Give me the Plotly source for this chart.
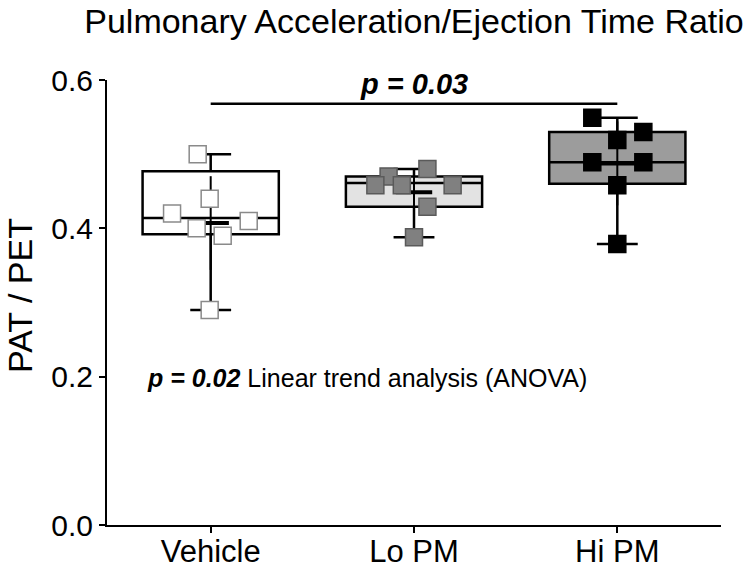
import numpy as np
import plotly.graph_objects as go

categories = ["Vehicle", "Lo PM", "Hi PM"]

vehicle_vals = [0.50, 0.44, 0.42, 0.40, 0.39, 0.41, 0.29]
lopm_vals = [0.470, 0.458, 0.458, 0.480, 0.429, 0.458, 0.388]
hipm_vals = [0.549, 0.519, 0.530, 0.489, 0.489, 0.458, 0.379]

# box statistics as drawn (q1, median, q3, lower whisker, upper whisker)
box_q1 = [0.392, 0.429, 0.460]
box_median = [0.414, 0.461, 0.489]
box_q3 = [0.477, 0.470, 0.530]
box_low = [0.290, 0.388, 0.379]
box_high = [0.500, 0.480, 0.549]

# horizontal scatter offsets of the points (layout only)
vehicle_off = [-0.064, -0.005, -0.19, -0.069, 0.059, 0.187, -0.005]
lopm_off = [-0.125, -0.19, -0.06, 0.066, 0.066, 0.19, 0.0]
hipm_off = [-0.123, 0.0, 0.128, -0.123, 0.128, 0.0, 0.0]

sig_level = 0.568
sig_text = "<b><i>p = 0.03</i></b>"
trend_text = "<b><i>p = 0.02</i></b> Linear trend analysis (ANOVA)"

FONT = "Liberation Sans, Arial, Helvetica, sans-serif"

series = [vehicle_vals, lopm_vals, hipm_vals]
offsets = [vehicle_off, lopm_off, hipm_off]
box_fill = ["#ffffff", "#e3e3e3", "#9c9c9c"]
pt_fill = ["#ffffff", "#808080", "#000000"]
pt_line = ["#8a8a8a", "#5a5a5a", "#000000"]

fig = go.Figure()

for i, cat in enumerate(categories):
    fig.add_trace(go.Box(
        x=[i], q1=[box_q1[i]], median=[box_median[i]], q3=[box_q3[i]],
        lowerfence=[box_low[i]], upperfence=[box_high[i]],
        width=0.67, whiskerwidth=0.3,
        fillcolor=box_fill[i], line=dict(color="black", width=2.5),
        boxpoints=False, showlegend=False, hoverinfo="skip",
    ))

# mean +/- SD
for i, vals in enumerate(series):
    m = float(np.mean(vals))
    sd = float(np.std(vals, ddof=1))
    fig.add_trace(go.Scatter(
        x=[i], y=[m], mode="markers",
        marker=dict(symbol="line-ew", size=26, line=dict(color="black", width=4)),
        error_y=dict(type="data", array=[sd], thickness=2, width=0, color="black"),
        showlegend=False, hoverinfo="skip",
    ))

for i, vals in enumerate(series):
    xs = [i + o for o in offsets[i]]
    fig.add_trace(go.Scatter(
        x=xs, y=vals, mode="markers",
        marker=dict(symbol="square", size=17, color=pt_fill[i],
                    line=dict(color=pt_line[i], width=1.5)),
        showlegend=False, hoverinfo="skip", cliponaxis=False,
    ))

fig.add_shape(type="line", x0=0, x1=2, y0=sig_level, y1=sig_level,
              xref="x", yref="y", line=dict(color="black", width=2.5))
fig.add_annotation(x=1, y=sig_level, xref="x", yref="y", text=sig_text,
                   showarrow=False, yanchor="bottom", yshift=2,
                   font=dict(family=FONT, size=29, color="black"))
fig.add_annotation(x=(145 - 107) / 614, y=0.198, xref="paper", yref="y",
                   text=trend_text, showarrow=False, xanchor="left",
                   yanchor="middle",
                   font=dict(family=FONT, size=25, color="black"))

fig.add_annotation(x=(20 - 107) / 614, y=(525 - 296) / 445, xref="paper",
                   yref="paper", text="PAT / PET", textangle=-90,
                   showarrow=False, xanchor="center", yanchor="middle",
                   font=dict(family=FONT, size=34, color="black"))

fig.update_layout(
    width=750, height=568,
    margin=dict(l=107, r=29, t=80, b=43, autoexpand=False),
    paper_bgcolor="white", plot_bgcolor="white",
    font=dict(family=FONT, color="black"),
    title=dict(text="Pulmonary Acceleration/Ejection Time Ratio",
               x=414 / 750, xanchor="center", y=1 - 21 / 568, yanchor="middle",
               automargin=False,
               font=dict(family=FONT, size=34, color="black")),
    xaxis=dict(range=[-0.51, 2.51], tickmode="array", tickvals=[0, 1, 2],
               ticktext=categories, showgrid=False, zeroline=False,
               showline=True, linecolor="black", linewidth=2, automargin=False,
               ticks="outside", ticklen=6, tickwidth=2, tickcolor="black",
               ticklabelstandoff=-8,
               tickfont=dict(family=FONT, size=31, color="black")),
    yaxis=dict(range=[0, 0.6], tickvals=[0, 0.2, 0.4, 0.6],
               ticktext=["0.0", "0.2", "0.4", "0.6"], showgrid=False,
               zeroline=False, showline=True, linecolor="black", linewidth=2,
               automargin=False,
               ticks="outside", ticklen=6, tickwidth=2, tickcolor="black",
               tickfont=dict(family=FONT, size=30, color="black")),
)

fig.write_html("out.html", config={"displayModeBar": False},
               post_script="document.body.style.margin='0px';")
